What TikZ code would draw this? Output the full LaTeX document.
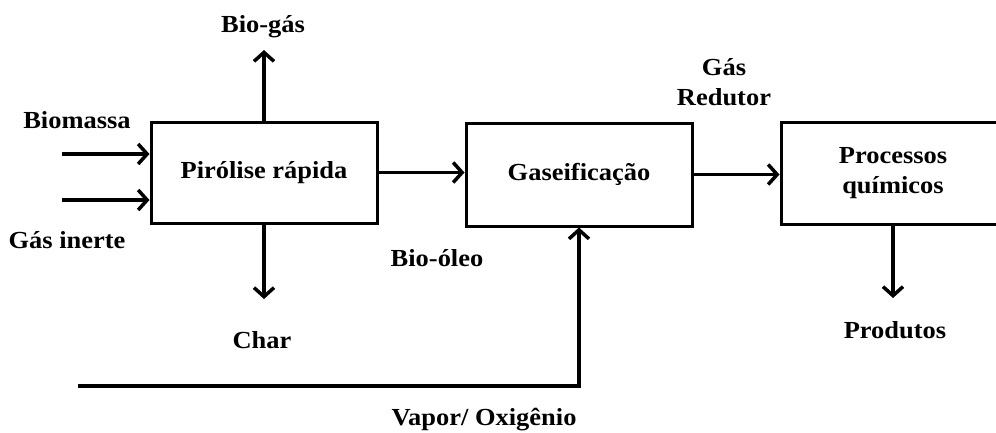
\documentclass[tikz,border=0pt]{standalone}
\usepackage{fontspec}
\setmainfont{Liberation Serif}[FakeStretch=1.08]
\usetikzlibrary{arrows.meta}
\begin{document}
\begin{tikzpicture}[x=1pt,y=-1pt,
  txt/.style={font=\fontsize{24.5}{30.5}\selectfont\bfseries, align=center, inner sep=0pt},
  procbox/.style={txt, draw, line width=3pt, minimum width=226pt, minimum height=101pt},
  flow/.style={line width=3.5pt, -{Straight Barb[length=9pt,width=20pt]}}]
\useasboundingbox (0,0) rectangle (996,432);
\clip (0,0) rectangle (996,432);
\fill[white] (0,0) rectangle (996,432);
% process boxes
\node[procbox] (pir) at (264,172.5) {Pirólise rápida};
\node[procbox, minimum height=103pt] (gas) at (579,174.5) {Gaseificação};
\node[procbox, minimum width=224pt, minimum height=102pt] (proc) at (893,173) {Processos\\químicos};
% labels
\node[txt] (lbio) at (77,120) {Biomassa};
\node[txt] (linerte) at (67,240) {Gás inerte};
\node[txt] (lbiogas) at (263,27) {Bio-gás};
\node[txt] (lchar) at (262,340) {Char};
\node[txt] (loleo) at (437,258) {Bio-óleo};
\node[txt] (lred) at (724,82) {Gás\\Redutor};
\node[txt] (lprod) at (895,330) {Produtos};
\node[txt] (lvapor) at (484,420) {Vapor/ Oxigênio};
% free ends
\coordinate (inbio) at (62,154);
\coordinate (ininerte) at (62,200);
\coordinate (tipbiogas) at (264,50);
\coordinate (tipchar) at (264,299);
\coordinate (tipprod) at (893,298);
\coordinate (invapor) at (78,386);
% connectors
\draw[flow] (inbio) -- (inbio -| pir.west);
\draw[flow] (ininerte) -- (ininerte -| pir.west);
\draw[flow] (pir.north) -- (tipbiogas);
\draw[flow] (pir.south) -- (tipchar);
\draw[flow] (pir.east) -- (pir.east -| gas.west);
\draw[flow] (gas.east) -- (gas.east -| proc.west);
\draw[flow] (proc.south) -- (tipprod);
\draw[flow] (invapor) -| (gas.south);
\end{tikzpicture}
\end{document}
